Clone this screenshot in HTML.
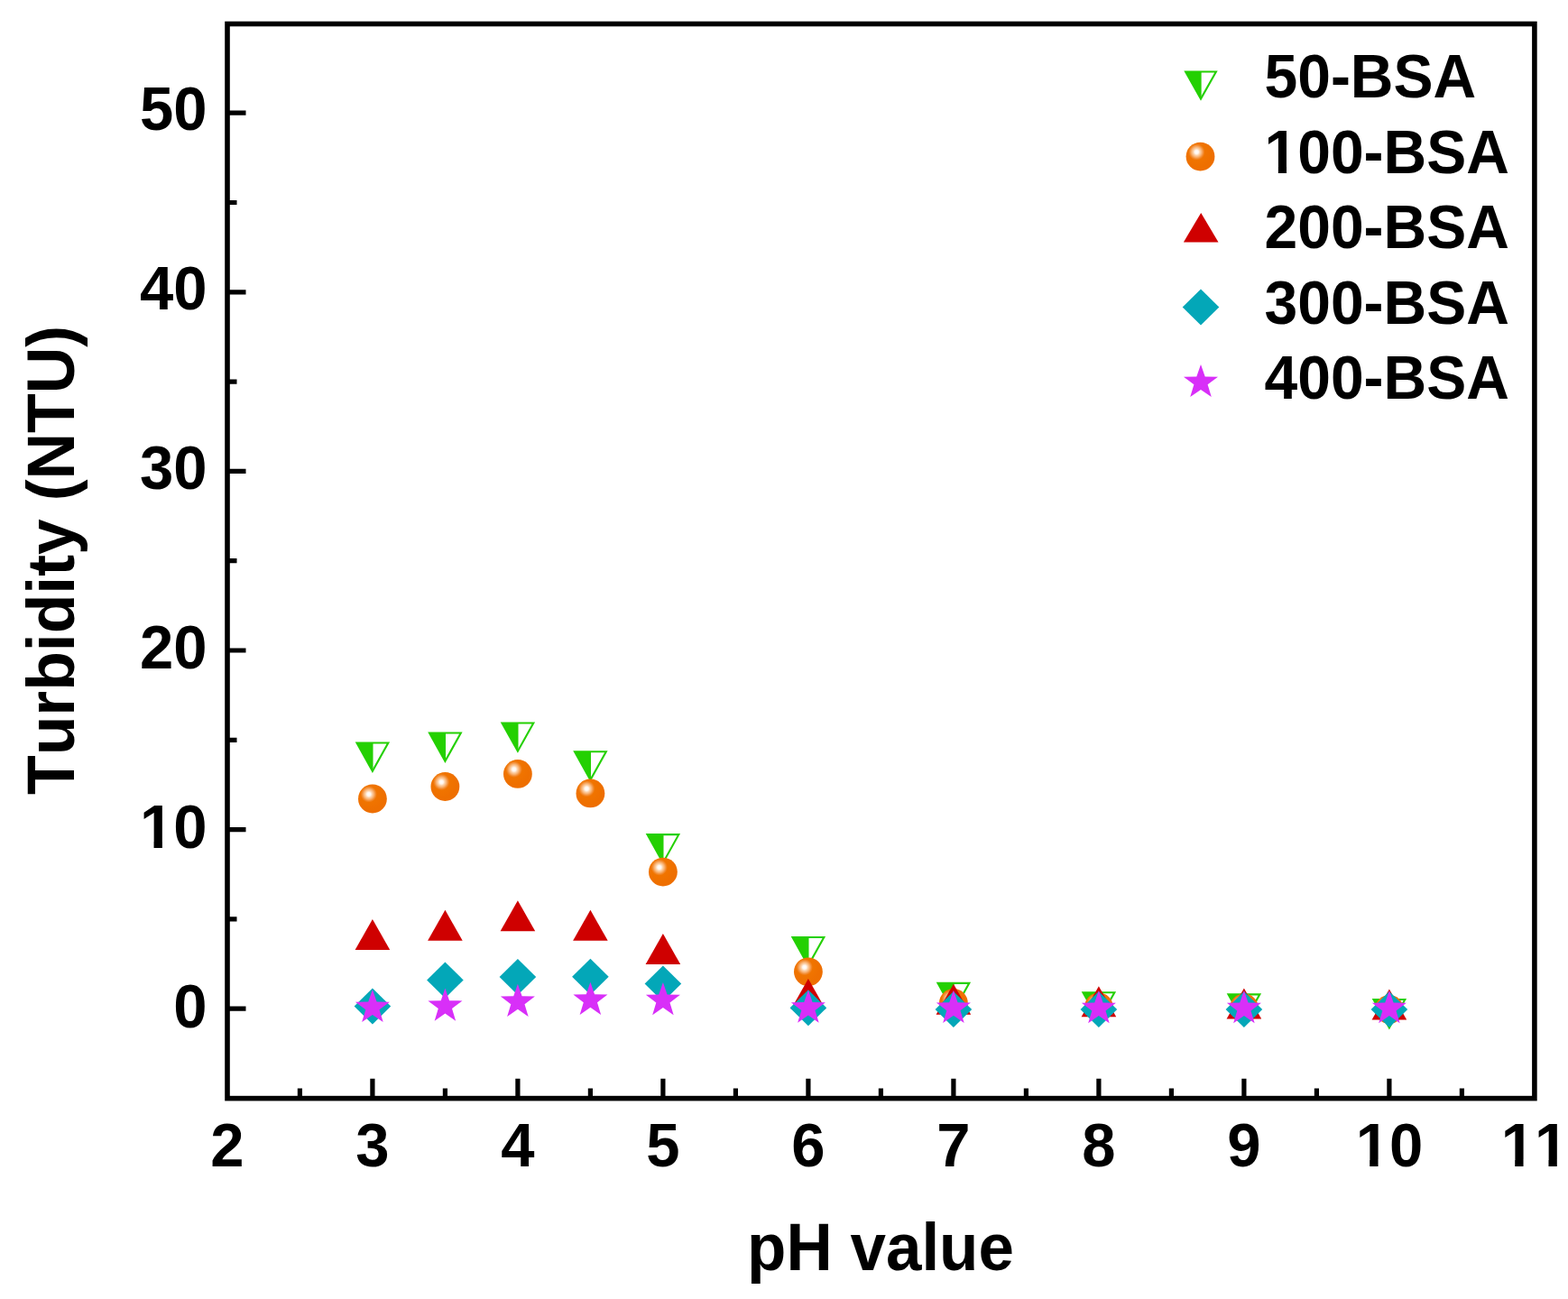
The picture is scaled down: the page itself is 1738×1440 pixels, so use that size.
<!DOCTYPE html>
<html><head><meta charset="utf-8"><title>Turbidity vs pH</title>
<style>html,body{margin:0;padding:0;background:#fff;}svg{display:block;}</style></head>
<body><svg width="1738" height="1440" viewBox="0 0 1738 1440">
<rect width="1738" height="1440" fill="#fff"/>
<defs><radialGradient id="ball" cx="0.37" cy="0.34" r="0.55" fx="0.37" fy="0.34" gradientUnits="objectBoundingBox"><stop offset="0" stop-color="#ffffff"/><stop offset="0.12" stop-color="#fff6ee"/><stop offset="0.21" stop-color="#fcd4ae"/><stop offset="0.33" stop-color="#f8ae6c"/><stop offset="0.43" stop-color="#f28a2e"/><stop offset="0.52" stop-color="#f07400"/><stop offset="1" stop-color="#ee6f00"/></radialGradient></defs><rect x="252" y="26.5" width="1448.9" height="1191.1" fill="none" stroke="#000" stroke-width="5.6"/><path d="M252,1118.20H272.50 M252,1018.90H262.50 M252,919.60H272.50 M252,820.30H262.50 M252,721.00H272.50 M252,621.70H262.50 M252,522.40H272.50 M252,423.10H262.50 M252,323.80H272.50 M252,224.50H262.50 M252,125.20H272.50 M332.40,1217.3V1206.60 M412.90,1217.3V1195.80 M493.40,1217.3V1206.60 M573.90,1217.3V1195.80 M654.40,1217.3V1206.60 M734.90,1217.3V1195.80 M815.40,1217.3V1206.60 M895.90,1217.3V1195.80 M976.40,1217.3V1206.60 M1056.90,1217.3V1195.80 M1137.40,1217.3V1206.60 M1217.90,1217.3V1195.80 M1298.40,1217.3V1206.60 M1378.90,1217.3V1195.80 M1459.40,1217.3V1206.60 M1539.90,1217.3V1195.80 M1620.40,1217.3V1206.60" stroke="#000" stroke-width="5.2" fill="none"/><g transform="translate(229.50,1138.80) scale(1,1.03)"><text x="-37.26" y="0" font-size="67" font-family="Liberation Sans, Arial, sans-serif" font-weight="bold" style="font-kerning:none">0</text></g><g transform="translate(229.50,940.10) scale(1,1.03)"><text x="-74.52" y="0" font-size="67" font-family="Liberation Sans, Arial, sans-serif" font-weight="bold" style="font-kerning:none">10</text><rect x="-71.42" y="-7.00" width="12.46" height="8.18" fill="#fff"/><rect x="-49.63" y="-7.00" width="11.91" height="8.18" fill="#fff"/></g><g transform="translate(229.50,740.60) scale(1,1.03)"><text x="-74.52" y="0" font-size="67" font-family="Liberation Sans, Arial, sans-serif" font-weight="bold" style="font-kerning:none">20</text></g><g transform="translate(229.50,542.00) scale(1,1.03)"><text x="-74.52" y="0" font-size="67" font-family="Liberation Sans, Arial, sans-serif" font-weight="bold" style="font-kerning:none">30</text></g><g transform="translate(229.50,343.40) scale(1,1.03)"><text x="-74.52" y="0" font-size="67" font-family="Liberation Sans, Arial, sans-serif" font-weight="bold" style="font-kerning:none">40</text></g><g transform="translate(229.50,144.00) scale(1,1.03)"><text x="-74.52" y="0" font-size="67" font-family="Liberation Sans, Arial, sans-serif" font-weight="bold" style="font-kerning:none">50</text></g><g transform="translate(251.90,1293.00) scale(1,1.03)"><text x="-18.63" y="0" font-size="67" font-family="Liberation Sans, Arial, sans-serif" font-weight="bold" style="font-kerning:none">2</text></g><g transform="translate(412.90,1293.00) scale(1,1.03)"><text x="-18.63" y="0" font-size="67" font-family="Liberation Sans, Arial, sans-serif" font-weight="bold" style="font-kerning:none">3</text></g><g transform="translate(573.90,1293.00) scale(1,1.03)"><text x="-18.63" y="0" font-size="67" font-family="Liberation Sans, Arial, sans-serif" font-weight="bold" style="font-kerning:none">4</text></g><g transform="translate(734.90,1293.00) scale(1,1.03)"><text x="-18.63" y="0" font-size="67" font-family="Liberation Sans, Arial, sans-serif" font-weight="bold" style="font-kerning:none">5</text></g><g transform="translate(895.90,1293.00) scale(1,1.03)"><text x="-18.63" y="0" font-size="67" font-family="Liberation Sans, Arial, sans-serif" font-weight="bold" style="font-kerning:none">6</text></g><g transform="translate(1056.90,1293.00) scale(1,1.03)"><text x="-18.63" y="0" font-size="67" font-family="Liberation Sans, Arial, sans-serif" font-weight="bold" style="font-kerning:none">7</text></g><g transform="translate(1217.90,1293.00) scale(1,1.03)"><text x="-18.63" y="0" font-size="67" font-family="Liberation Sans, Arial, sans-serif" font-weight="bold" style="font-kerning:none">8</text></g><g transform="translate(1378.90,1293.00) scale(1,1.03)"><text x="-18.63" y="0" font-size="67" font-family="Liberation Sans, Arial, sans-serif" font-weight="bold" style="font-kerning:none">9</text></g><g transform="translate(1539.90,1293.00) scale(1,1.03)"><text x="-37.26" y="0" font-size="67" font-family="Liberation Sans, Arial, sans-serif" font-weight="bold" style="font-kerning:none">10</text><rect x="-34.15" y="-7.00" width="12.46" height="8.18" fill="#fff"/><rect x="-12.37" y="-7.00" width="11.91" height="8.18" fill="#fff"/></g><g transform="translate(1700.90,1293.00) scale(1,1.03)"><text x="-37.26" y="0" font-size="67" font-family="Liberation Sans, Arial, sans-serif" font-weight="bold" style="font-kerning:none">11</text><rect x="-34.15" y="-7.00" width="12.46" height="8.18" fill="#fff"/><rect x="-12.37" y="-7.00" width="11.91" height="8.18" fill="#fff"/><rect x="3.11" y="-7.00" width="12.46" height="8.18" fill="#fff"/><rect x="24.90" y="-7.00" width="11.91" height="8.18" fill="#fff"/></g><text transform="translate(976,1407.8) scale(1,1.045)" text-anchor="middle" font-size="71" font-family="Liberation Sans, Arial, sans-serif" font-weight="bold" style="font-kerning:none">pH value</text><text transform="translate(82,620.9) rotate(-90) scale(1,1.045)" x="0" y="0" text-anchor="middle" font-size="71.5" font-family="Liberation Sans, Arial, sans-serif" font-weight="bold" style="font-kerning:none">Turbidity (NTU)</text><polygon points="395.49,823.55 413.50,823.55 413.50,854.79 412.90,854.79" fill="#24d002"/><polygon points="395.49,823.55 430.31,823.55 412.90,854.79" fill="none" stroke="#24d002" stroke-width="2.1" stroke-linejoin="miter"/><polygon points="475.99,812.55 494.00,812.55 494.00,843.79 493.40,843.79" fill="#24d002"/><polygon points="475.99,812.55 510.81,812.55 493.40,843.79" fill="none" stroke="#24d002" stroke-width="2.1" stroke-linejoin="miter"/><polygon points="556.49,801.45 574.50,801.45 574.50,832.69 573.90,832.69" fill="#24d002"/><polygon points="556.49,801.45 591.31,801.45 573.90,832.69" fill="none" stroke="#24d002" stroke-width="2.1" stroke-linejoin="miter"/><polygon points="636.99,833.25 655.00,833.25 655.00,864.49 654.40,864.49" fill="#24d002"/><polygon points="636.99,833.25 671.81,833.25 654.40,864.49" fill="none" stroke="#24d002" stroke-width="2.1" stroke-linejoin="miter"/><polygon points="717.49,925.15 735.50,925.15 735.50,956.39 734.90,956.39" fill="#24d002"/><polygon points="717.49,925.15 752.31,925.15 734.90,956.39" fill="none" stroke="#24d002" stroke-width="2.1" stroke-linejoin="miter"/><polygon points="878.49,1039.05 896.50,1039.05 896.50,1070.29 895.90,1070.29" fill="#24d002"/><polygon points="878.49,1039.05 913.31,1039.05 895.90,1070.29" fill="none" stroke="#24d002" stroke-width="2.1" stroke-linejoin="miter"/><polygon points="1039.49,1089.85 1057.50,1089.85 1057.50,1121.09 1056.90,1121.09" fill="#24d002"/><polygon points="1039.49,1089.85 1074.31,1089.85 1056.90,1121.09" fill="none" stroke="#24d002" stroke-width="2.1" stroke-linejoin="miter"/><polygon points="1200.49,1100.25 1218.50,1100.25 1218.50,1131.49 1217.90,1131.49" fill="#24d002"/><polygon points="1200.49,1100.25 1235.31,1100.25 1217.90,1131.49" fill="none" stroke="#24d002" stroke-width="2.1" stroke-linejoin="miter"/><polygon points="1361.49,1102.35 1379.50,1102.35 1379.50,1133.59 1378.90,1133.59" fill="#24d002"/><polygon points="1361.49,1102.35 1396.31,1102.35 1378.90,1133.59" fill="none" stroke="#24d002" stroke-width="2.1" stroke-linejoin="miter"/><polygon points="1522.49,1108.05 1540.50,1108.05 1540.50,1139.29 1539.90,1139.29" fill="#24d002"/><polygon points="1522.49,1108.05 1557.31,1108.05 1539.90,1139.29" fill="none" stroke="#24d002" stroke-width="2.1" stroke-linejoin="miter"/><circle cx="412.90" cy="885.50" r="15.9" fill="url(#ball)"/><circle cx="493.40" cy="872.00" r="15.9" fill="url(#ball)"/><circle cx="573.90" cy="857.90" r="15.9" fill="url(#ball)"/><circle cx="654.40" cy="879.40" r="15.9" fill="url(#ball)"/><circle cx="734.90" cy="966.60" r="15.9" fill="url(#ball)"/><circle cx="895.90" cy="1077.30" r="15.9" fill="url(#ball)"/><circle cx="1056.90" cy="1112.00" r="15.9" fill="url(#ball)"/><circle cx="1217.90" cy="1116.50" r="15.9" fill="url(#ball)"/><circle cx="1378.90" cy="1117.50" r="15.9" fill="url(#ball)"/><circle cx="1539.90" cy="1119.00" r="15.9" fill="url(#ball)"/><polygon points="412.90,1019.00 432.20,1053.00 393.60,1053.00" fill="#cf0000"/><polygon points="493.40,1008.80 512.70,1042.80 474.10,1042.80" fill="#cf0000"/><polygon points="573.90,998.30 593.20,1032.30 554.60,1032.30" fill="#cf0000"/><polygon points="654.40,1008.80 673.70,1042.80 635.10,1042.80" fill="#cf0000"/><polygon points="734.90,1035.00 754.20,1069.00 715.60,1069.00" fill="#cf0000"/><polygon points="895.90,1085.10 915.20,1119.10 876.60,1119.10" fill="#cf0000"/><polygon points="1056.90,1090.80 1076.20,1124.80 1037.60,1124.80" fill="#cf0000"/><polygon points="1217.90,1093.30 1237.20,1127.30 1198.60,1127.30" fill="#cf0000"/><polygon points="1378.90,1095.60 1398.20,1129.60 1359.60,1129.60" fill="#cf0000"/><polygon points="1539.90,1096.50 1559.20,1130.50 1520.60,1130.50" fill="#cf0000"/><polygon points="412.90,1095.50 433.20,1115.50 412.90,1135.50 392.60,1115.50" fill="#03a7b8"/><polygon points="493.40,1066.40 513.70,1086.40 493.40,1106.40 473.10,1086.40" fill="#03a7b8"/><polygon points="573.90,1062.90 594.20,1082.90 573.90,1102.90 553.60,1082.90" fill="#03a7b8"/><polygon points="654.40,1062.80 674.70,1082.80 654.40,1102.80 634.10,1082.80" fill="#03a7b8"/><polygon points="734.90,1070.40 755.20,1090.40 734.90,1110.40 714.60,1090.40" fill="#03a7b8"/><polygon points="895.90,1097.20 916.20,1117.20 895.90,1137.20 875.60,1117.20" fill="#03a7b8"/><polygon points="1056.90,1099.00 1077.20,1119.00 1056.90,1139.00 1036.60,1119.00" fill="#03a7b8"/><polygon points="1217.90,1099.00 1238.20,1119.00 1217.90,1139.00 1197.60,1119.00" fill="#03a7b8"/><polygon points="1378.90,1099.00 1399.20,1119.00 1378.90,1139.00 1358.60,1119.00" fill="#03a7b8"/><polygon points="1539.90,1099.00 1560.20,1119.00 1539.90,1139.00 1519.60,1119.00" fill="#03a7b8"/><polygon points="412.90,1096.90 417.60,1110.43 431.92,1110.72 420.51,1119.37 424.66,1133.08 412.90,1124.90 401.14,1133.08 405.29,1119.37 393.88,1110.72 408.20,1110.43" fill="#d82ff8"/><polygon points="493.40,1095.60 498.10,1109.13 512.42,1109.42 501.01,1118.07 505.16,1131.78 493.40,1123.60 481.64,1131.78 485.79,1118.07 474.38,1109.42 488.70,1109.13" fill="#d82ff8"/><polygon points="573.90,1090.80 578.60,1104.33 592.92,1104.62 581.51,1113.27 585.66,1126.98 573.90,1118.80 562.14,1126.98 566.29,1113.27 554.88,1104.62 569.20,1104.33" fill="#d82ff8"/><polygon points="654.40,1088.80 659.10,1102.33 673.42,1102.62 662.01,1111.27 666.16,1124.98 654.40,1116.80 642.64,1124.98 646.79,1111.27 635.38,1102.62 649.70,1102.33" fill="#d82ff8"/><polygon points="734.90,1089.00 739.60,1102.53 753.92,1102.82 742.51,1111.47 746.66,1125.18 734.90,1117.00 723.14,1125.18 727.29,1111.47 715.88,1102.82 730.20,1102.53" fill="#d82ff8"/><polygon points="895.90,1097.50 900.60,1111.03 914.92,1111.32 903.51,1119.97 907.66,1133.68 895.90,1125.50 884.14,1133.68 888.29,1119.97 876.88,1111.32 891.20,1111.03" fill="#d82ff8"/><polygon points="1056.90,1097.70 1061.60,1111.23 1075.92,1111.52 1064.51,1120.17 1068.66,1133.88 1056.90,1125.70 1045.14,1133.88 1049.29,1120.17 1037.88,1111.52 1052.20,1111.23" fill="#d82ff8"/><polygon points="1217.90,1098.00 1222.60,1111.53 1236.92,1111.82 1225.51,1120.47 1229.66,1134.18 1217.90,1126.00 1206.14,1134.18 1210.29,1120.47 1198.88,1111.82 1213.20,1111.53" fill="#d82ff8"/><polygon points="1378.90,1098.00 1383.60,1111.53 1397.92,1111.82 1386.51,1120.47 1390.66,1134.18 1378.90,1126.00 1367.14,1134.18 1371.29,1120.47 1359.88,1111.82 1374.20,1111.53" fill="#d82ff8"/><polygon points="1539.90,1098.00 1544.60,1111.53 1558.92,1111.82 1547.51,1120.47 1551.66,1134.18 1539.90,1126.00 1528.14,1134.18 1532.29,1120.47 1520.88,1111.82 1535.20,1111.53" fill="#d82ff8"/><polygon points="1314.09,79.55 1331.60,79.55 1331.60,109.59 1331.00,109.59" fill="#24d002"/><polygon points="1314.09,79.55 1347.91,79.55 1331.00,109.59" fill="none" stroke="#24d002" stroke-width="2.1" stroke-linejoin="miter"/><circle cx="1330.50" cy="173.60" r="15.9" fill="url(#ball)"/><polygon points="1331.20,235.90 1350.50,268.50 1311.90,268.50" fill="#cf0000"/><polygon points="1331.00,320.40 1351.30,340.40 1331.00,360.40 1310.70,340.40" fill="#03a7b8"/><polygon points="1331.00,403.90 1335.70,417.43 1350.02,417.72 1338.61,426.37 1342.76,440.08 1331.00,431.90 1319.24,440.08 1323.39,426.37 1311.98,417.72 1326.30,417.43" fill="#d82ff8"/><g transform="translate(1401.50,108.30) scale(1,1.03)"><text x="0.00" y="0" font-size="66" font-family="Liberation Sans, Arial, sans-serif" font-weight="bold" style="font-kerning:none">50-BSA</text></g><g transform="translate(1401.50,191.70) scale(1,1.03)"><text x="0.00" y="0" font-size="66" font-family="Liberation Sans, Arial, sans-serif" font-weight="bold" style="font-kerning:none">100-BSA</text><rect x="3.06" y="-6.90" width="12.28" height="8.06" fill="#fff"/><rect x="24.52" y="-6.90" width="11.73" height="8.06" fill="#fff"/></g><g transform="translate(1401.50,275.10) scale(1,1.03)"><text x="0.00" y="0" font-size="66" font-family="Liberation Sans, Arial, sans-serif" font-weight="bold" style="font-kerning:none">200-BSA</text></g><g transform="translate(1401.50,358.50) scale(1,1.03)"><text x="0.00" y="0" font-size="66" font-family="Liberation Sans, Arial, sans-serif" font-weight="bold" style="font-kerning:none">300-BSA</text></g><g transform="translate(1401.50,441.90) scale(1,1.03)"><text x="0.00" y="0" font-size="66" font-family="Liberation Sans, Arial, sans-serif" font-weight="bold" style="font-kerning:none">400-BSA</text></g>
</svg></body></html>
